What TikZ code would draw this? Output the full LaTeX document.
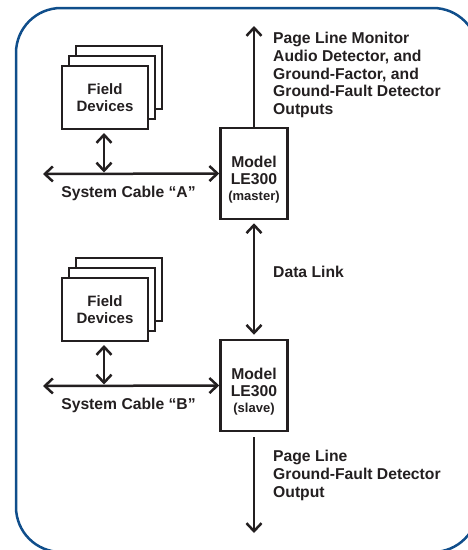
\documentclass[tikz,border=0pt]{standalone}
\usepackage{fontspec}
\setmainfont{Liberation Sans}
\usetikzlibrary{arrows.meta}
\definecolor{frameblue}{RGB}{16,78,139}
\definecolor{ink}{RGB}{35,31,32}
\begin{document}
\begin{tikzpicture}[x=1pt,y=-1pt,
  card/.style={draw=ink,line width=2pt,fill=white,minimum width=86pt,minimum height=63pt,inner sep=0pt},
  cardtxt/.style={card,text=ink,font=\fontsize{15}{17}\selectfont\bfseries,align=center},
  unitbox/.style={draw=ink,line width=2.5pt,minimum width=67pt,minimum height=91pt,inner sep=0pt},
  txt/.style={text=ink,font=\fontsize{15.7}{17.8}\selectfont\bfseries,inner sep=0pt},
  small/.style={text=ink,font=\fontsize{13}{15}\selectfont\bfseries,inner sep=0pt},
  conn/.style={draw=ink,line width=2.5pt},
  >={Straight Barb[length=8pt,width=15pt]}
]
\useasboundingbox (0,0) rectangle (468,550);
\draw[frameblue,line width=2.5pt,rounded corners=45pt] (16,8) rectangle (478,552);

% ---- upper section ----
\node[card] (a3) at (119,77.5) {};
\node[card] (a2) at (112,87.5) {};
\node[cardtxt] (a1) at (105,97.5) {Field\\Devices};
\node[unitbox] (ma) at (254,173.5) {};
\node[txt,anchor=base] (ma1) at (254,167) {Model};
\node[txt,anchor=base] (ma2) at (254,184) {LE300};
\node[small,anchor=base] (ma3) at (254,200) {(master)};
\coordinate (ca) at (43,174);
\coordinate (ja) at (104,174);
\draw[conn,<->] (ca) -- (ma.west);
\draw[conn,<->,shorten <=3pt,shorten >=1.5pt] (a1.south -| ja) -- (ja);
\node[txt,anchor=base] (cabA) at (128.5,197) {System Cable “A”};
\coordinate (outa) at (254,26);
\draw[conn,->] (ma.north) -- (outa);
\node[txt,anchor=north west,align=left] (outatxt) at (273,32) {Page Line Monitor\\Audio Detector, and\\Ground-Factor, and\\Ground-Fault Detector\\Outputs};

% ---- data link ----
\node[unitbox] (sl) at (254,385.5) {};
\draw[conn,<->,shorten <=3pt,shorten >=4pt] (ma.south) -- (sl.north);
\node[txt,anchor=base west] (dl) at (273,277) {Data Link};

% ---- lower section ----
\node[card] (b3) at (119,289.5) {};
\node[card] (b2) at (112,299.5) {};
\node[cardtxt] (b1) at (105,309.5) {Field\\Devices};
\node[txt,anchor=base] (sl1) at (254,379) {Model};
\node[txt,anchor=base] (sl2) at (254,396) {LE300};
\node[small,anchor=base] (sl3) at (254,412) {(slave)};
\coordinate (cb) at (43,386);
\coordinate (jb) at (104,386);
\draw[conn,<->] (cb) -- (sl.west);
\draw[conn,<->,shorten <=3pt,shorten >=1.5pt] (b1.south -| jb) -- (jb);
\node[txt,anchor=base] (cabB) at (128.5,409) {System Cable “B”};
\coordinate (outb) at (254,533);
\draw[conn,->,shorten <=5pt] (sl.south) -- (outb);
\node[txt,anchor=north west,align=left] (outbtxt) at (273,450) {Page Line\\Ground-Fault Detector\\Output};
\end{tikzpicture}
\end{document}
